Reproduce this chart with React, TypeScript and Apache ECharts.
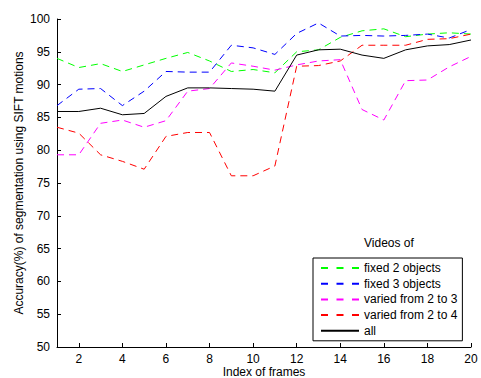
import React, { useEffect, useRef } from "react";
import * as echarts from "echarts";

const frames = [1, 2, 3, 4, 5, 6, 7, 8, 9, 10, 11, 12, 13, 14, 15, 16, 17, 18, 19, 20];
const xTicks = [2, 4, 6, 8, 10, 12, 14, 16, 18, 20];
const fixed2 = [94.0, 92.6, 93.2, 92.0, 93.0, 94.0, 94.9, 93.6, 92.0, 92.3, 91.8, 95.0, 95.3, 97.2, 98.2, 98.5, 97.3, 97.7, 97.9, 97.7];
const fixed3 = [86.8, 89.3, 89.4, 86.8, 89.0, 92.0, 91.9, 91.9, 96.0, 95.6, 94.6, 97.8, 99.4, 97.4, 97.5, 97.4, 97.5, 97.7, 97.1, 98.4];
const varied23 = [79.3, 79.3, 84.1, 84.6, 83.5, 84.5, 89.0, 89.4, 93.3, 92.8, 92.2, 93.0, 93.6, 93.8, 86.2, 84.6, 90.6, 90.7, 92.7, 94.3];
const varied24 = [83.5, 82.6, 79.3, 78.3, 77.1, 82.1, 82.7, 82.7, 76.1, 76.1, 77.6, 92.8, 92.9, 93.6, 96.0, 96.0, 96.0, 96.9, 97.0, 97.7];
const allVals = [85.9, 85.9, 86.4, 85.4, 85.6, 88.2, 89.5, 89.5, 89.4, 89.3, 89.0, 94.5, 95.3, 95.4, 94.5, 94.0, 95.3, 95.9, 96.1, 96.8];

const seriesNames = ["fixed 2 objects", "fixed 3 objects", "varied from 2 to 3", "varied from 2 to 4", "all"];

export default function App() {
  const ref = useRef<HTMLDivElement>(null);
  useEffect(() => {
    if (!ref.current) return;
    const chart = echarts.init(ref.current, null, { renderer: "svg" });
    const font = "Liberation Sans, Arial, sans-serif";
    const mk = (name: string, vals: number[], color: string, dashed: boolean) => ({
      name,
      type: "line",
      data: frames.map((f, i) => [f, vals[i]]),
      symbol: "none",
      lineStyle: { color, width: 1, type: dashed ? [7, 5] : "solid" },
      itemStyle: { color },
      z: 3,
    });
    const legendDash = { type: [7, 8.5] };
    chart.setOption({
      animation: false,
      backgroundColor: "#ffffff",
      textStyle: { fontFamily: font },
      graphic: [
        {
          type: "text",
          left: 364,
          top: 237,
          style: { text: "Videos of", font: "12px Liberation Sans, Arial, sans-serif", fill: "#000" },
        },
      ],
      grid: { left: 57, right: 10, top: 19, bottom: 31, outerBoundsMode: "none", containLabel: false },
      legend: {
        data: [
          { name: seriesNames[0], lineStyle: legendDash },
          { name: seriesNames[1], lineStyle: legendDash },
          { name: seriesNames[2], lineStyle: legendDash },
          { name: seriesNames[3], lineStyle: legendDash },
          { name: seriesNames[4] },
        ],
        orient: "vertical",
        left: 313,
        top: 258,
        width: 155,
        padding: [4, 5, 4, 7],
        itemWidth: 38,
        itemHeight: 12,
        itemGap: 3.7,
        borderColor: "#000",
        borderWidth: 1,
        backgroundColor: "#fff",
        itemStyle: { opacity: 0 },
        textStyle: { fontSize: 12, color: "#000", fontFamily: font },
      },
      xAxis: {
        type: "value",
        min: 1,
        max: 20,
        name: "Index of frames",
        nameLocation: "middle",
        nameGap: 19,
        nameMoveOverlap: false,
        nameTextStyle: { fontSize: 12, color: "#000", fontFamily: font, lineHeight: 12 },
        axisLine: { onZero: false, lineStyle: { color: "#000", width: 1 } },
        axisTick: { inside: true, length: 4, customValues: xTicks, lineStyle: { color: "#000" } },
        axisLabel: { customValues: xTicks, fontSize: 12, lineHeight: 12, color: "#000", margin: 6, fontFamily: font },
        splitLine: { show: false },
      },
      yAxis: {
        type: "value",
        min: 50,
        max: 100,
        interval: 5,
        name: "Accuracy(%) of segmentation using SIFT motions",
        nameLocation: "middle",
        nameGap: 32,
        nameMoveOverlap: false,
        nameTextStyle: { fontSize: 12, color: "#000", fontFamily: font },
        axisLine: { show: true, lineStyle: { color: "#000", width: 1 } },
        axisTick: { show: true, inside: true, length: 4, lineStyle: { color: "#000" } },
        axisLabel: { fontSize: 12, color: "#000", margin: 7, fontFamily: font },
        splitLine: { show: false },
      },
      series: [
        mk(seriesNames[0], fixed2, "#00ff00", true),
        mk(seriesNames[1], fixed3, "#0000ff", true),
        mk(seriesNames[2], varied23, "#ff00ff", true),
        mk(seriesNames[3], varied24, "#ff0000", true),
        mk(seriesNames[4], allVals, "#000000", false),
      ],
    });
    return () => chart.dispose();
  }, []);
  return <div ref={ref} style={{ width: 481, height: 378, position: "absolute", left: 0, top: 0 }} />;
}
